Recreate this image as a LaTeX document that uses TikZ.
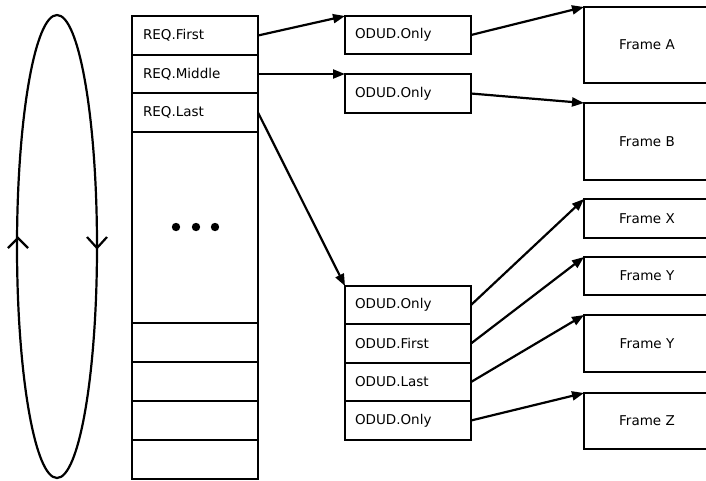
\documentclass[tikz,border=0pt]{standalone}
\usepackage{fontspec}
\setmainfont{DejaVu Sans}
\usetikzlibrary{arrows.meta}
\begin{document}
\begin{tikzpicture}[x=1pt,y=-1pt,
  every node/.style={font=\fontsize{13.5}{15}\selectfont},
  box/.style={draw,line width=2.2pt,minimum width=126pt,inner sep=0pt,outer sep=0pt},
  lrow/.style={box,text width=104pt,align=left,minimum height=#1},
  mrow/.style={box,text width=106pt,align=left,minimum height=#1},
  frame/.style={box,minimum height=#1},
  conn/.style={line width=2.2pt,-{Triangle[length=12pt,width=9pt]}}]
\useasboundingbox (0,0) rectangle (706,480);
% loop
\draw[line width=2.2pt] (57,246.5) ellipse [x radius=40pt, y radius=231.5pt];
\draw[line width=2.2pt] (8,248) -- (18,238) -- (28,248);
\draw[line width=2.2pt] (87,237) -- (97,248) -- (107,237);
% left column
\node[lrow=39pt] (rf) at (195,35.5) {REQ.First};
\node[lrow=38pt] (rm) at (195,74) {REQ.Middle};
\node[lrow=39pt] (rl) at (195,112.5) {REQ.Last};
\node[box,minimum height=191pt] (big) at (195,227.5) {};
\node[lrow=39pt] (b1) at (195,342.5) {};
\node[lrow=39pt] (b2) at (195,381.5) {};
\node[lrow=39pt] (b3) at (195,420.5) {};
\node[lrow=39pt] (b4) at (195,459.5) {};
\fill (176,227) circle[radius=4.2pt] (196,227) circle[radius=4.2pt] (215,227) circle[radius=4.2pt];
% middle column
\node[mrow=38pt] (o1) at (408,35) {ODUD.Only};
\node[mrow=39pt] (o2) at (408,93.5) {ODUD.Only};
\node[mrow=38pt] (g1) at (408,305) {ODUD.Only};
\node[mrow=39pt] (g2) at (408,343.5) {ODUD.First};
\node[mrow=38pt] (g3) at (408,382) {ODUD.Last};
\node[mrow=39pt] (g4) at (408,420.5) {ODUD.Only};
% frames
\node[frame=76pt] (fA) at (647,45) {Frame A};
\node[frame=77pt] (fB) at (647,141.5) {Frame B};
\node[frame=39pt] (fX) at (647,218.5) {Frame X};
\node[frame=38pt] (fY1) at (647,276) {Frame Y};
\node[frame=57pt] (fY2) at (647,343.5) {Frame Y};
\node[frame=56pt] (fZ) at (647,421) {Frame Z};
% connectors
\draw[conn] (rf.east) -- (o1.north west);
\draw[conn] (rm.east) -- (o2.north west);
\draw[conn] (rl.east) -- (g1.north west);
\draw[conn] (o1.east) -- (fA.north west);
\draw[conn] (o2.east) -- (fB.north west);
\draw[conn] (g1.east) -- (fX.north west);
\draw[conn] (g2.east) -- (fY1.north west);
\draw[conn] (g3.east) -- (fY2.north west);
\draw[conn] (g4.east) -- (fZ.north west);
\end{tikzpicture}
\end{document}
